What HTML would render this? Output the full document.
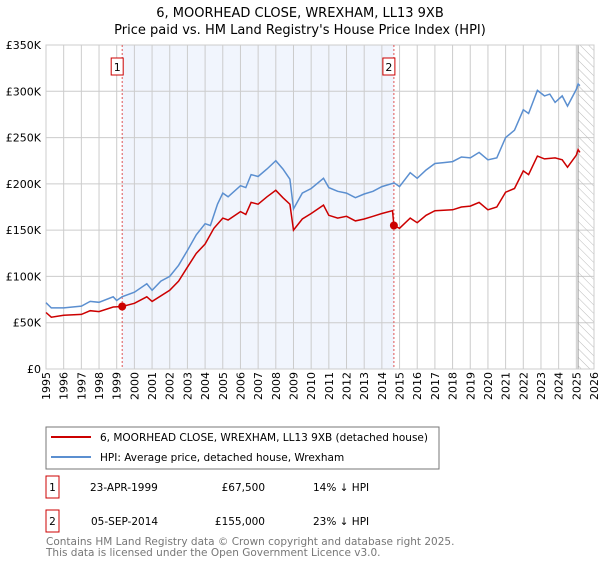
<!DOCTYPE html>
<html><head><meta charset="utf-8"><style>
body{margin:0;background:#fff;font-family:"Liberation Sans","DejaVu Sans",sans-serif;}
svg text{font-family:"DejaVu Sans","Liberation Sans",sans-serif;}
</style></head><body>
<svg id="c" width="600" height="560" xmlns="http://www.w3.org/2000/svg">
<defs><pattern id="hatch" width="6" height="6" patternUnits="userSpaceOnUse" patternTransform="rotate(-45)"><line x1="0" y1="0" x2="0" y2="6" stroke="#bbb" stroke-width="1"/></pattern></defs>
<text x="300" y="17" text-anchor="middle" font-size="13">6, MOORHEAD CLOSE, WREXHAM, LL13 9XB</text>
<text x="300" y="34" text-anchor="middle" font-size="13">Price paid vs. HM Land Registry's House Price Index (HPI)</text>
<g id="plot"></g>
<g>
<rect x="46" y="427" width="393" height="42" fill="#fff" stroke="#777"/>
<line x1="51" y1="437" x2="91" y2="437" stroke="#cc0000" stroke-width="2"/>
<text x="100" y="441" font-size="10.5">6, MOORHEAD CLOSE, WREXHAM, LL13 9XB (detached house)</text>
<line x1="51" y1="457" x2="91" y2="457" stroke="#5b8fd0" stroke-width="2"/>
<text x="100" y="461" font-size="10.5">HPI: Average price, detached house, Wrexham</text>
</g>
<g font-size="10.5">
<rect x="46" y="476" width="13" height="22" fill="none" stroke="#cc0000"/><text x="52.5" y="491" text-anchor="middle">1</text>
<text x="90" y="491">23-APR-1999</text><text x="265" y="491" text-anchor="end">£67,500</text><text x="313" y="491">14% ↓ HPI</text>
<rect x="46" y="510" width="13" height="22" fill="none" stroke="#cc0000"/><text x="52.5" y="525" text-anchor="middle">2</text>
<text x="91" y="525">05-SEP-2014</text><text x="265" y="525" text-anchor="end">£155,000</text><text x="313" y="525">23% ↓ HPI</text>
</g>
<text x="46" y="545" font-size="10.5" fill="#777">Contains HM Land Registry data © Crown copyright and database right 2025.</text>
<text x="46" y="556" font-size="10.5" fill="#777">This data is licensed under the Open Government Licence v3.0.</text>
</svg>
<script>
const yTicks=[0,50000,100000,150000,200000,250000,300000,350000];
const yTickLabels=["£0","£50K","£100K","£150K","£200K","£250K","£300K","£350K"];
const xYears=[1995,1996,1997,1998,1999,2000,2001,2002,2003,2004,2005,2006,2007,2008,2009,2010,2011,2012,2013,2014,2015,2016,2017,2018,2019,2020,2021,2022,2023,2024,2025,2026];
const hpiT=[1995.0,1995.3,1996,1997,1997.5,1998,1998.8,1999,1999.3,2000,2000.7,2001,2001.5,2002,2002.5,2003,2003.5,2004,2004.3,2004.7,2005,2005.3,2006,2006.3,2006.6,2007,2007.5,2008,2008.4,2008.8,2009.0,2009.5,2010,2010.7,2011,2011.5,2012,2012.5,2013,2013.5,2014,2014.7,2015,2015.6,2016,2016.5,2017,2017.5,2018,2018.5,2019,2019.5,2020,2020.5,2021,2021.5,2022,2022.3,2022.8,2023.2,2023.5,2023.8,2024.2,2024.5,2025,2025.1,2025.2];
const hpiV=[71600,66000,66000,68000,73000,72000,78000,74000,78000,83000,92000,85000,95000,100000,112000,128000,145000,157000,155000,178000,190000,186000,198000,196000,210000,208000,216000,225000,216000,205000,173000,190000,195000,206000,196000,192000,190000,185000,189000,192000,197000,201000,197000,212000,206000,215000,222000,223000,224000,229000,228000,234000,226000,228000,250000,258000,280000,276000,301000,295000,297000,288000,295000,284000,302000,308000,306000];
const ppT=[1995.0,1995.3,1996,1997,1997.5,1998,1998.8,1999.31,2000,2000.7,2001,2002,2002.5,2003,2003.5,2004,2004.5,2005,2005.3,2006,2006.3,2006.6,2007,2007.5,2008,2008.4,2008.8,2009.0,2009.5,2010,2010.7,2011,2011.5,2012,2012.5,2013,2013.5,2014,2014.6,2014.68,2015,2015.6,2016,2016.5,2017,2018,2018.5,2019,2019.5,2020,2020.5,2021,2021.5,2022,2022.3,2022.8,2023.2,2023.8,2024.2,2024.5,2025,2025.1,2025.2];
const ppV=[61000,56000,58000,59000,63000,62000,67000,67500,71000,78000,73000,85000,95000,110000,125000,135000,152000,163000,161000,170000,167000,180000,178000,186000,193000,185000,178000,150000,162000,168000,177000,166000,163000,165000,160000,162000,165000,168000,171000,155000,152000,163000,158000,166000,171000,172000,175000,176000,180000,172000,175000,191000,195000,214000,210000,230000,227000,228000,226000,218000,231000,237000,234000];
const saleT=[1999.31,2014.68];
const saleV=[67500,155000];
const saleLabels=["1","2"];
const hatchStart=2025.1;

const X0=46,X1=594,Y0=369,Y1=45;
const xs=t=>X0+(t-1995)/(2026-1995)*(X1-X0);
const ys=v=>Y0-v/350000*(Y0-Y1);
const NS="http://www.w3.org/2000/svg";
const g=document.getElementById('plot');
function mk(tag,attrs,parent){const e=document.createElementNS(NS,tag);for(const k in attrs)e.setAttribute(k,attrs[k]);(parent||g).appendChild(e);return e;}

let sh=mk('rect',{x:xs(saleT[0]),y:Y1,width:xs(saleT[1])-xs(saleT[0]),height:Y0-Y1,fill:'#eef3fc',opacity:0.8});


xYears.forEach(yr=>{const l=mk('line',{x1:xs(yr),x2:xs(yr),y1:Y1,y2:Y0,stroke:'#ccc'});


const t=mk('text',{x:0,y:0,'font-size':11,'text-anchor':'end',transform:`translate(${xs(yr)+4},${Y0+3}) rotate(-90)`});
t.textContent=yr;

});
yTicks.forEach((v,i)=>{const l=mk('line',{x1:X0,x2:X1,y1:ys(v),y2:ys(v),stroke:'#ccc'});


const t=mk('text',{x:X0-5,y:ys(v)+4,'font-size':11,'text-anchor':'end'});
t.textContent=yTickLabels[i];

});
let hr=mk('rect',{x:xs(hatchStart),y:Y1,width:X1-xs(hatchStart),height:Y0-Y1,fill:'url(#hatch)',stroke:'#999'});


let fr=mk('rect',{x:X0,y:Y1,width:X1-X0,height:Y0-Y1,fill:'none',stroke:'#ccc'});


saleT.forEach((t,i)=>{const l=mk('line',{x1:xs(t),x2:xs(t),y1:Y1,y2:Y0,stroke:'#e05555','stroke-dasharray':'2,2'});

});
function path(T,V,color,name){const d=T.map((t,i)=>(i?'L':'M')+xs(t).toFixed(1)+','+ys(V[i]).toFixed(1)).join('');
const p=mk('path',{d:d,fill:'none',stroke:color,'stroke-width':1.5});

}
path(hpiT,hpiV,'#5b8fd0','hpi-line');
path(ppT,ppV,'#cc0000','price-paid-line');
saleT.forEach((t,i)=>{const c=mk('circle',{cx:xs(t),cy:ys(saleV[i]),r:4,fill:'#cc0000'});


const b=mk('rect',{x:xs(t)-11,y:58,width:12,height:17,fill:'#fff',stroke:'#cc0000'});


const tx=mk('text',{x:xs(t)-5,y:71,'font-size':11,'text-anchor':'middle'});
tx.textContent=saleLabels[i];

});
</script>
</body></html>
